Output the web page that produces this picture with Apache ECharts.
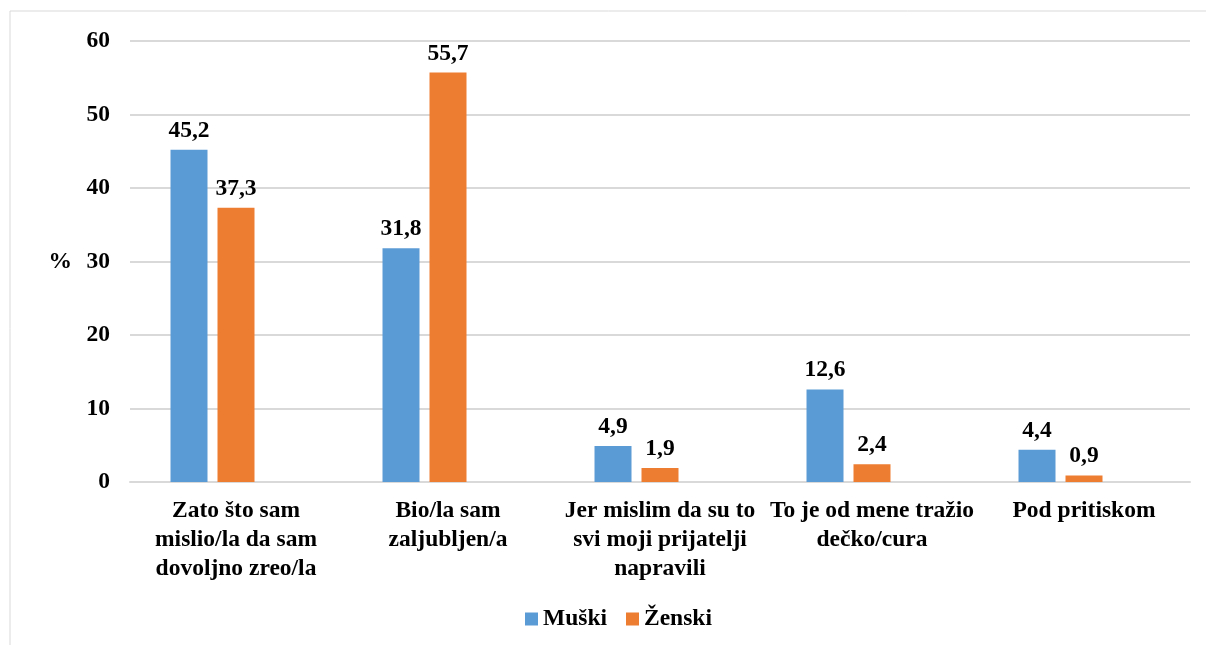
<!DOCTYPE html>
<html>
<head>
<meta charset="utf-8">
<script src="https://cdn.jsdelivr.net/npm/echarts@6/dist/echarts.min.js"></script>
<style>
	html, body { margin: 0; padding: 0; background: #fff; }
	#chart { width: 1206px; height: 645px; }
</style>
</head>
<body>
<div id="chart"></div>
<script>
// data
var categories = [
	'Zato što sam\nmislio/la da sam\ndovoljno zreo/la',
	'Bio/la sam\nzaljubljen/a',
	'Jer mislim da su to\nsvi moji prijatelji\nnapravili',
	'To je od mene tražio\ndečko/cura',
	'Pod pritiskom'
];
var muski = [45.2, 31.8, 4.9, 12.6, 4.4];
var zenski = [37.3, 55.7, 1.9, 2.4, 0.9];
var yTicks = [0, 10, 20, 30, 40, 50, 60];

var font = '"Liberation Serif", "Times New Roman", serif';
var fs = 23.5;

var labelStyle = {
	show: true,
	position: 'top',
	distance: 7,
	color: '#000',
	fontFamily: font,
	fontWeight: 'bold',
	fontSize: fs,
	formatter: function(p) {
		return String(p.value).replace('.', ',');
	}
};

var myChart = echarts.init(document.getElementById('chart'));

var options = {
	animation: false,
	textStyle: { fontFamily: font },
	graphic: [{
		type: 'rect',
		shape: { x: 10, y: 11, width: 1300, height: 800 },
		style: { fill: 'none', stroke: '#d9d9d9', lineWidth: 1 },
		silent: true
	}],
	grid: {
		left: 130,
		right: 16,
		top: 41,
		bottom: 163
	},
	legend: {
		data: ['Muški', 'Ženski'],
		top: 602,
		left: 520,
		itemWidth: 13,
		itemHeight: 13,
		itemGap: 19,
		icon: 'rect',
		textStyle: {
			color: '#000',
			fontFamily: font,
			fontWeight: 'bold',
			fontSize: fs
		}
	},
	xAxis: {
		type: 'category',
		data: categories,
		axisLine: { lineStyle: { color: '#d9d9d9', width: 2 } },
		axisTick: { show: false },
		axisLabel: {
			interval: 0,
			margin: 14,
			color: '#000',
			fontFamily: font,
			fontWeight: 'bold',
			fontSize: fs,
			lineHeight: 29
		}
	},
	yAxis: {
		type: 'value',
		min: yTicks[0],
		max: yTicks[yTicks.length - 1],
		interval: 10,
		name: '%',
		nameLocation: 'middle',
		nameRotate: 0,
		nameGap: 58,
		nameTextStyle: {
			color: '#000',
			fontFamily: font,
			fontWeight: 'bold',
			fontSize: fs
		},
		axisLine: { show: false },
		axisTick: { show: false },
		splitLine: { lineStyle: { color: '#d9d9d9', width: 2 } },
		axisLabel: {
			margin: 20,
			color: '#000',
			fontFamily: font,
			fontWeight: 'bold',
			fontSize: fs
		}
	},
	series: [
		{
			name: 'Muški',
			type: 'bar',
			data: muski,
			barWidth: 37,
			barGap: '27%',
			itemStyle: { color: '#5b9bd5' },
			label: labelStyle
		},
		{
			name: 'Ženski',
			type: 'bar',
			data: zenski,
			barWidth: 37,
			itemStyle: { color: '#ed7d31' },
			label: labelStyle
		},
		{
			// empty third slot, keeps the two bars left of the category centre
			name: 'spacer',
			type: 'bar',
			data: categories.map(function() { return null; }),
			barWidth: 37,
			silent: true
		}
	]
};

myChart.setOption(options);
</script>
</body>
</html>
